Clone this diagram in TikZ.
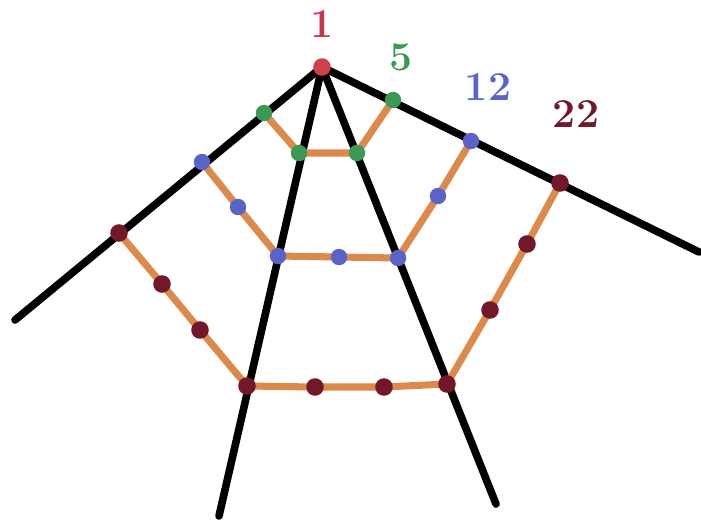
\documentclass[tikz,border=0pt]{standalone}
\usepackage{tikz}
\usetikzlibrary{positioning,calc}
\definecolor{ray}{HTML}{000000}
\definecolor{edge}{HTML}{DC8A4C}
\definecolor{one}{HTML}{D0404A}
\definecolor{onetxt}{HTML}{C8344F}
\definecolor{five}{HTML}{3A9A55}
\definecolor{twelve}{HTML}{5A64C8}
\definecolor{twentytwo}{HTML}{731828}
\tikzset{rayline/.style={ray,line width=6.5pt,line cap=round},edgeline/.style={edge,line width=6pt},dot/.style={circle,inner sep=0pt,minimum size=12pt},num/.style={font=\fontsize{35}{38}\selectfont\bfseries}}

\begin{document}
\begin{tikzpicture}[x=0.03cm,y=-0.03cm]
\useasboundingbox (0,0) rectangle (701,523);
% rays
\node[dot] (apex) at (322,67) {};
\coordinate (e1) at (15,320);\coordinate (e2) at (219,516);
\coordinate (e3) at (496,504);\coordinate (e4) at (699,252);
\foreach \e in {e1,e2,e3,e4} \draw[rayline] (apex.center) -- (\e);
% dot positions
\node[dot] (g1) at (264,113) {};\node[dot] (g2) at (299,153) {};
\node[dot] (g3) at (357,153) {};\node[dot] (g4) at (393,100) {};
\node[dot] (b1) at (202,162) {};\node[dot] (b2) at (238,207) {};
\node[dot] (b3) at (278,256) {};\node[dot] (b4) at (339,257) {};
\node[dot] (b5) at (398,258) {};\node[dot] (b6) at (438,196) {};
\node[dot] (b7) at (471,141) {};
\node[dot] (r1) at (119,233) {};\node[dot] (r2) at (162,284) {};
\node[dot] (r3) at (200,330) {};\node[dot] (r4) at (247,386) {};
\node[dot] (r5) at (315,387) {};\node[dot] (r6) at (384,387) {};
\node[dot] (r7) at (447,384) {};\node[dot] (r8) at (490,310) {};
\node[dot] (r9) at (527,244) {};\node[dot] (r10) at (560,183) {};
% pentagon sides
\draw[edgeline] (g1.center) -- (g2.center) -- (g3.center) -- (g4.center);
\draw[edgeline] (b1.center) -- (b2.center) -- (b3.center) -- (b4.center) -- (b5.center) -- (b6.center) -- (b7.center);
\draw[edgeline] (r1.center) -- (r2.center) -- (r3.center) -- (r4.center) -- (r5.center) -- (r6.center) -- (r7.center) -- (r8.center) -- (r9.center) -- (r10.center);
% dots on top
\foreach \n in {g1,g2,g3,g4} \fill[five] (\n) circle (7pt);
\foreach \n in {b1,b2,b3,b4,b5,b6,b7} \fill[twelve] (\n) circle (7pt);
\foreach \n in {r1,r2,r3,r4,r5,r6,r7,r8,r9,r10} \fill[twentytwo] (\n) circle (7.5pt);
\fill[one] (apex) circle (7.5pt);
% labels
\node[num,text=onetxt] (l1) at (322,24) {1};
\node[num,text=five] (l5) at (401,57) {5};
\node[num,text=twelve] (l12) at (488,87) {12};
\node[num,text=twentytwo] (l22) at (576,114) {22};
\end{tikzpicture}
\end{document}
